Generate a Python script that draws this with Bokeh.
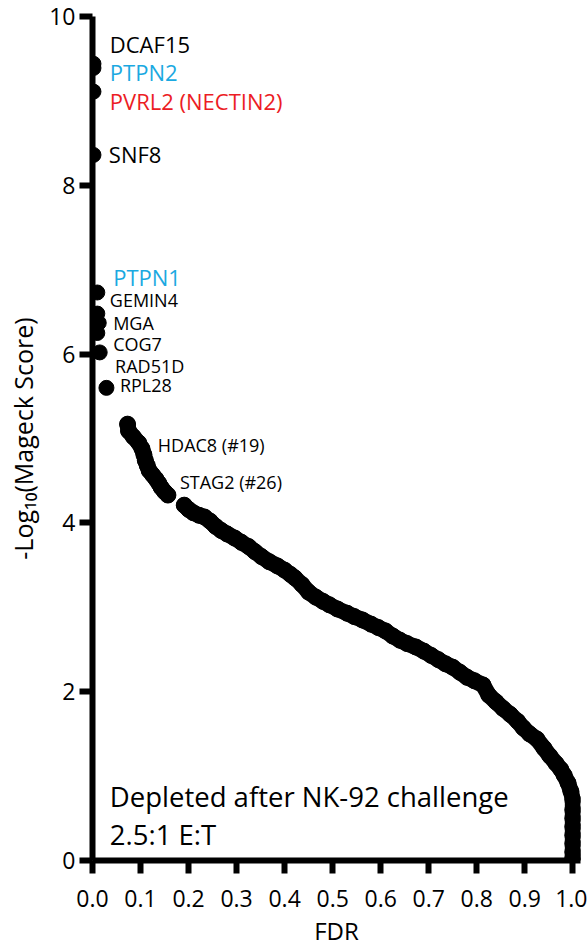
from bokeh.plotting import figure
from bokeh.models import Range1d, FixedTicker
from bokeh.core.properties import value
from bokeh.embed import file_html
from bokeh.resources import INLINE

# ---- data ----
top_fdr = [0.002, 0.002, 0.002, 0.002, 0.010, 0.010, 0.013, 0.010, 0.015, 0.029]
top_score = [9.44, 9.39, 9.11, 8.36, 6.73, 6.48, 6.37, 6.25, 6.02, 5.60]

seg1_fdr = [0.073, 0.075, 0.085, 0.096, 0.103, 0.107, 0.110, 0.114, 0.118, 0.125,
            0.132, 0.138, 0.143, 0.150, 0.157]
seg1_score = [5.17, 5.09, 5.02, 4.95, 4.88, 4.81, 4.74, 4.68, 4.62, 4.57,
              4.52, 4.47, 4.42, 4.37, 4.33]

seg2_fdr = [0.191, 0.200, 0.210, 0.222, 0.233, 0.245, 0.256, 0.268, 0.280, 0.296,
            0.310, 0.325, 0.338, 0.352, 0.368, 0.385, 0.400, 0.412, 0.421, 0.436,
            0.450, 0.465, 0.480, 0.493, 0.510, 0.530, 0.545, 0.562, 0.580, 0.595,
            0.610, 0.625, 0.640, 0.655, 0.673, 0.690, 0.705, 0.720, 0.735, 0.750,
            0.765, 0.780, 0.795, 0.813, 0.825, 0.840, 0.855, 0.870, 0.885, 0.897,
            0.910, 0.925, 0.940, 0.952, 0.965, 0.975, 0.982, 0.990, 0.996, 1.000,
            1.000, 1.000, 1.000, 1.000, 1.000, 1.000, 1.000]
seg2_score = [4.21, 4.16, 4.12, 4.09, 4.07, 4.02, 3.96, 3.91, 3.87, 3.82,
              3.77, 3.72, 3.66, 3.60, 3.54, 3.49, 3.44, 3.39, 3.35, 3.27,
              3.18, 3.12, 3.07, 3.03, 2.98, 2.93, 2.89, 2.85, 2.80, 2.76,
              2.72, 2.66, 2.61, 2.57, 2.53, 2.48, 2.43, 2.38, 2.33, 2.29,
              2.23, 2.17, 2.13, 2.08, 1.96, 1.88, 1.80, 1.73, 1.65, 1.57,
              1.50, 1.44, 1.33, 1.24, 1.15, 1.08, 1.01, 0.92, 0.82, 0.72,
              0.60, 0.50, 0.40, 0.30, 0.20, 0.10, 0.03]

big_genes = ["DCAF15", "PTPN2", "PVRL2 (NECTIN2)", "SNF8", "PTPN1"]
big_gene_x = [0.036, 0.036, 0.036, 0.034, 0.043]
big_gene_y = [9.67, 9.34, 9.00, 8.37, 6.91]
big_gene_color = ["#000000", "#1BA9E1", "#EC1C24", "#000000", "#1BA9E1"]

small_genes = ["GEMIN4", "MGA", "COG7", "RAD51D", "RPL28", "HDAC8 (#19)", "STAG2 (#26)"]
small_gene_x = [0.036, 0.043, 0.043, 0.047, 0.057, 0.136, 0.182]
small_gene_y = [6.64, 6.37, 6.12, 5.86, 5.63, 4.92, 4.49]

x_ticks = [0.0, 0.1, 0.2, 0.3, 0.4, 0.5, 0.6, 0.7, 0.8, 0.9, 1.0]
y_ticks = [0, 2, 4, 6, 8, 10]

FONT = "Open Sans"

p = figure(width=587, height=949, x_range=Range1d(0, 1.016), y_range=Range1d(0, 10),
           output_backend="svg", toolbar_location=None,
           min_border_left=92, min_border_right=7, min_border_top=16, min_border_bottom=88)
p.outline_line_color = None
p.grid.visible = False
p.background_fill_color = "white"
p.border_fill_color = "white"

# curve (dense points drawn as thick connected dots)
p.line(seg1_fdr, seg1_score, line_width=16, line_color="black", line_cap="round", line_join="round")
p.line(seg2_fdr, seg2_score, line_width=16, line_color="black", line_cap="round", line_join="round")
p.scatter(seg1_fdr, seg1_score, size=16, color="black")
p.scatter(seg2_fdr, seg2_score, size=16, color="black")
p.scatter(top_fdr, top_score, size=15, color="black")

# gene labels
p.text(big_gene_x, big_gene_y, text=big_genes, text_color=big_gene_color,
       text_font=value(FONT), text_font_size="22px", text_baseline="middle", text_align="left")
p.text(small_gene_x, small_gene_y, text=small_genes, text_color="#000000",
       text_font=value(FONT), text_font_size="18px", text_baseline="middle", text_align="left")
p.text([0.036, 0.036], [0.76, 0.31], text=["Depleted after NK-92 challenge", "2.5:1 E:T"],
       text_color="#000000", text_font=value(FONT), text_font_size="27.5px",
       text_baseline="middle", text_align="left")

# axes
for ax in (p.xaxis[0], p.yaxis[0]):
    ax.axis_line_width = 6
    ax.axis_line_color = "black"
    ax.major_tick_line_width = 6
    ax.major_tick_line_color = "black"
    ax.major_tick_out = 13
    ax.major_tick_in = 0
    ax.minor_tick_line_color = None
    ax.major_label_text_font = FONT
    ax.major_label_text_font_size = "23px"
    ax.major_label_text_color = "#000000"
    ax.axis_label_text_font = FONT
    ax.axis_label_text_font_size = "24px"
    ax.axis_label_text_font_style = "normal"
    ax.axis_label_text_color = "#000000"

p.xaxis.ticker = FixedTicker(ticks=x_ticks)
p.xaxis.major_label_overrides = {t: f"{t:.1f}" for t in x_ticks}
p.xaxis.major_label_standoff = 16
p.xaxis.axis_label = "FDR"
p.xaxis.axis_label_standoff = 4

p.yaxis.ticker = FixedTicker(ticks=y_ticks)
p.yaxis.major_label_standoff = 4
p.yaxis.axis_label = "-Log₁₀(Mageck Score)"
p.yaxis.axis_label_text_font_size = "25px"
p.yaxis.axis_label_standoff = 6

open("out.html", "w").write(file_html(p, INLINE))
